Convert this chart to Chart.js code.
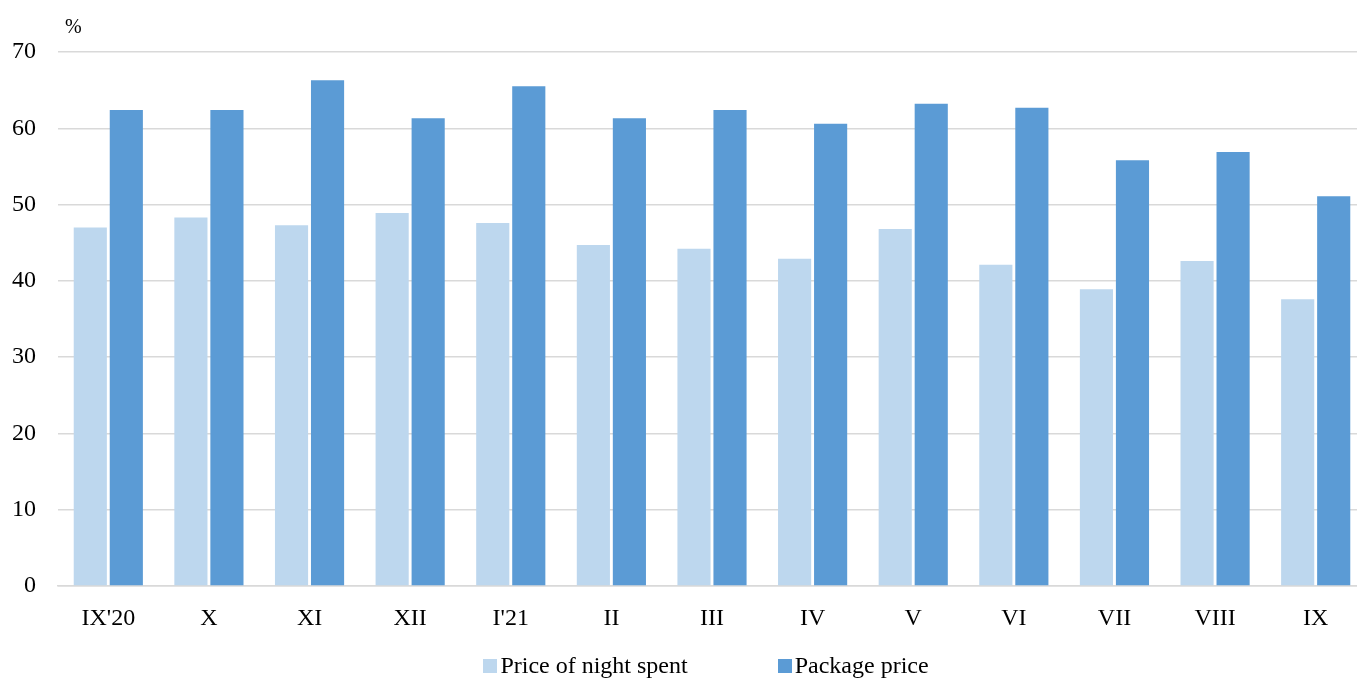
<!DOCTYPE html>
<html>
<head>
<meta charset="utf-8">
<script src="https://cdn.jsdelivr.net/npm/chart.js@4"></script>
<style>
html,body{margin:0;padding:0;background:#fff;overflow:hidden;}
#wrap{width:1366px;height:678px;position:relative;}
#legend{position:absolute;left:0;width:1412px;top:651px;height:28px;display:flex;justify-content:center;gap:90px;
  font-family:'Liberation Serif','Times New Roman',serif;font-size:24px;color:#000;line-height:28px;white-space:nowrap;}
#legend .item{display:flex;align-items:center;}
#legend .box{width:14px;height:14px;margin-right:3px;margin-top:1px;}
</style>
</head>
<body>
<div id="wrap"><canvas id="c"></canvas><div id="legend"></div></div>
<script>
const categories = ["IX'20","X","XI","XII","I'21","II","III","IV","V","VI","VII","VIII","IX"];
const nightPrice = [47.0,48.3,47.3,48.9,47.6,44.7,44.2,42.9,46.8,42.1,38.9,42.6,37.6];
const packagePrice = [62.4,62.4,66.3,61.3,65.5,61.3,62.4,60.6,63.2,62.7,55.8,56.9,51.1];
const seriesNames = ["Price of night spent","Package price"];
const seriesColors = ['#BDD7EE','#5B9BD5'];
const yTicks = [0,10,20,30,40,50,60,70];

const FONT = "'Liberation Serif','Times New Roman',serif";

const percentPlugin = {
  id:'percentLabel',
  afterDraw(chart){
    const {ctx, chartArea} = chart;
    ctx.save();
    ctx.font = "20px " + FONT;
    ctx.fillStyle = "#000";
    ctx.textAlign = "left";
    ctx.textBaseline = "middle";
    ctx.fillText("%", chartArea.left + 7, chartArea.top - 24);
    ctx.restore();
  }
};

const chart = new Chart(document.getElementById('c'), {
  type:'bar',
  data:{
    labels:categories,
    datasets:[
      {label:seriesNames[0], data:nightPrice, backgroundColor:seriesColors[0], borderWidth:0},
      {label:seriesNames[1], data:packagePrice, backgroundColor:seriesColors[1], borderWidth:0}
    ]
  },
  options:{
    responsive:true,
    maintainAspectRatio:false,
    animation:false,
    layout:{padding:{top:52,left:0,right:0,bottom:42}},
    datasets:{bar:{categoryPercentage:0.716, barPercentage:0.92}},
    plugins:{
      legend:{display:false},
      tooltip:{enabled:false}
    },
    scales:{
      x:{
        grid:{display:false, drawTicks:false},
        border:{color:'#d9d9d9', width:1.5},
        ticks:{font:{family:FONT,size:24}, color:'#000', padding:18},
        afterFit(axis){ axis.height = 50; }
      },
      y:{
        min:0, max:70,
        afterBuildTicks(axis){ axis.ticks = yTicks.map(v=>({value:v})); },
        afterFit(axis){ axis.width = 58; },
        grid:{color:'#d9d9d9', lineWidth:1.5, drawTicks:false},
        border:{display:false},
        ticks:{font:{family:FONT,size:24}, color:'#000', padding:22}
      }
    }
  },
  plugins:[percentPlugin]
});

// HTML legend built from the dataset definitions
const legendEl = document.getElementById('legend');
chart.data.datasets.forEach(ds => {
  const item = document.createElement('div');
  item.className = 'item';
  const box = document.createElement('span');
  box.className = 'box';
  box.style.background = ds.backgroundColor;
  const txt = document.createElement('span');
  txt.textContent = ds.label;
  item.appendChild(box);
  item.appendChild(txt);
  legendEl.appendChild(item);
});
</script>
</body>
</html>
